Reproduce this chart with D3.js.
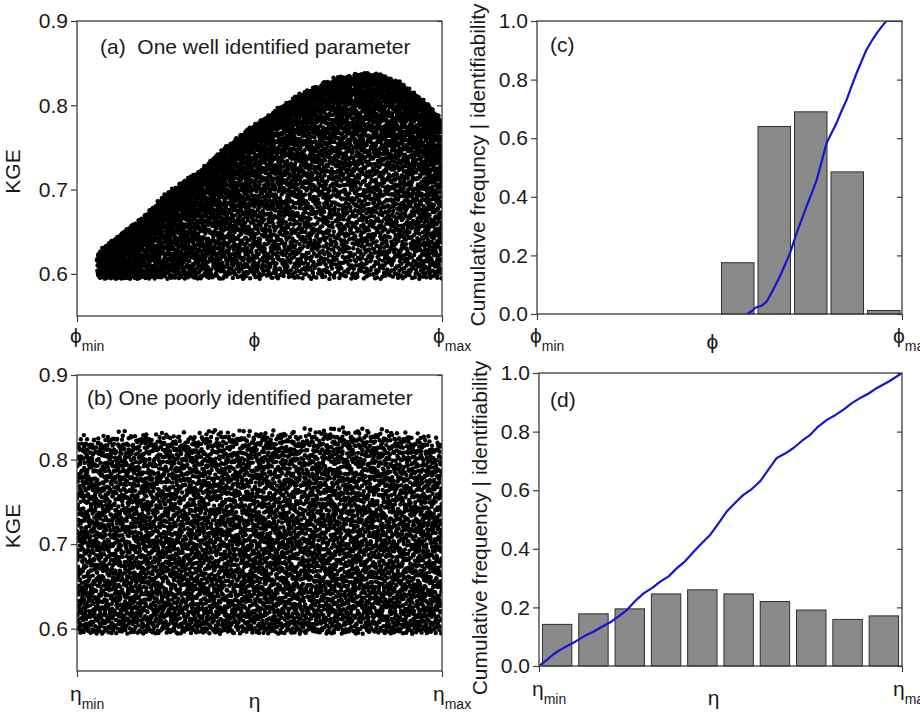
<!DOCTYPE html>
<html>
<head>
<meta charset="utf-8">
<script src="https://cdn.jsdelivr.net/npm/d3@7"></script>
<style>
  html, body { margin: 0; padding: 0; background: #fff; }
  svg { display: block; font-family: "Liberation Sans", Arial, sans-serif; }
</style>
</head>
<body>
<svg id="fig" width="920" height="714"></svg>
<script>
// ---- data -------------------------------------------------------------
// KGE cloud of panel (a): upper edge of the behavioural region vs. normalised phi
const phiEdgeX   = [0.054, 0.109, 0.182, 0.245, 0.337, 0.428, 0.519, 0.610, 0.702, 0.793, 0.838, 0.884, 0.939, 0.975, 1.0];
const phiEdgeKGE = [0.621, 0.640, 0.664, 0.692, 0.719, 0.755, 0.783, 0.810, 0.828, 0.835, 0.832, 0.824, 0.806, 0.791, 0.779];
// KGE cloud of panel (b): upper edge vs. normalised eta
const etaEdgeX   = [0, 0.1, 0.2, 0.3, 0.4, 0.5, 0.6, 0.7, 0.8, 0.9, 1.0];
const etaEdgeKGE = [0.822, 0.827, 0.828, 0.826, 0.830, 0.830, 0.829, 0.833, 0.832, 0.829, 0.820];
const kgeFloor = 0.594;          // behavioural threshold (lower edge of both clouds)

// identifiability per parameter bin (10 bins)
const phiIdent = [0, 0, 0, 0, 0, 0.175, 0.64, 0.69, 0.485, 0.012];
const etaIdent = [0.142, 0.178, 0.195, 0.246, 0.260, 0.246, 0.220, 0.191, 0.159, 0.171];

// cumulative frequency curves: [normalised parameter, cumulative frequency]
const phiCdf = [[0.576,0],[0.590,0.012],[0.601,0.023],[0.615,0.028],[0.629,0.042],[0.648,0.085],[0.665,0.127],
                [0.680,0.170],[0.693,0.207],[0.711,0.275],[0.725,0.322],[0.738,0.366],[0.752,0.410],
                [0.766,0.457],[0.780,0.520],[0.793,0.582],[0.806,0.615],[0.820,0.650],[0.834,0.692],
                [0.848,0.730],[0.862,0.778],[0.875,0.820],[0.889,0.862],[0.902,0.900],[0.916,0.930],
                [0.930,0.957],[0.944,0.980],[0.957,1.0],[1.0,1.0]];
const etaCdf = [[0,0],[0.021,0.020],[0.040,0.040],[0.058,0.055],[0.080,0.070],[0.100,0.083],[0.125,0.102],
                [0.150,0.117],[0.175,0.135],[0.200,0.152],[0.220,0.170],[0.242,0.191],[0.265,0.222],
                [0.288,0.248],[0.311,0.266],[0.334,0.288],[0.357,0.306],[0.380,0.334],[0.403,0.358],
                [0.426,0.390],[0.449,0.420],[0.472,0.448],[0.495,0.488],[0.517,0.527],[0.540,0.556],
                [0.563,0.584],[0.586,0.604],[0.609,0.630],[0.632,0.670],[0.655,0.710],[0.678,0.725],
                [0.701,0.744],[0.724,0.768],[0.747,0.789],[0.770,0.818],[0.793,0.840],[0.816,0.856],
                [0.839,0.875],[0.862,0.897],[0.885,0.915],[0.908,0.930],[0.931,0.949],[0.965,0.972],[1,1]];

const kgeTicks  = [0.6, 0.7, 0.8, 0.9];
const freqTicks = [0, 0.2, 0.4, 0.6, 0.8, 1.0];

// ---- helpers ----------------------------------------------------------
const svg = d3.select("#fig");
const frameColor = "#3c3c3c";
const textColor = "#1a1a1a";
const fs = 21;

// leaped Halton sequence: even coverage of the envelope without a visible lattice
function halton(i, b) {
  let f = 1, r = 0;
  while (i > 0) { f /= b; r += f * (i % b); i = Math.floor(i / b); }
  return r;
}
const LEAP = 409;

function panelFrame(g, w, h) {
  g.append("rect").attr("width", w).attr("height", h)
    .attr("fill", "none").attr("stroke", frameColor).attr("stroke-width", 1.3);
}

function yAxes(g, y, w, ticks, fmt) {
  const left = g.append("g").call(d3.axisLeft(y).tickValues(ticks).tickSize(6).tickPadding(3).tickFormat(fmt));
  left.select(".domain").remove();
  left.selectAll("line").attr("stroke", frameColor).attr("stroke-width", 1.2);
  left.selectAll("text").attr("font-size", fs).attr("fill", textColor)
    .attr("font-family", "Liberation Sans, Arial, sans-serif");
  const right = g.append("g").attr("transform", `translate(${w},0)`)
    .call(d3.axisLeft(y).tickValues(ticks).tickSize(5).tickFormat(""));
  right.select(".domain").remove();
  right.selectAll("line").attr("stroke", frameColor).attr("stroke-width", 1.2);
}

function xAxis(g, x, h, sym, labY, midY, midDx) {
  const ax = g.append("g").attr("transform", `translate(0,${h})`)
    .call(d3.axisBottom(x).tickValues([0, 1]).tickSize(6).tickFormat(""));
  ax.select(".domain").remove();
  ax.selectAll("line").attr("stroke", frameColor).attr("stroke-width", 1.2);
  [[0, "min", -7], [1, "max", -9]].forEach(([v, sub, dx]) => {
    const t = g.append("text").attr("x", x(v) + dx).attr("y", h + labY)
      .attr("fill", textColor).attr("font-size", fs);
    t.append("tspan").text(sym);
    t.append("tspan").attr("dy", 8).attr("font-size", 14).text(sub);
  });
  g.append("text").attr("x", x(0.5) + midDx).attr("y", h + midY)
    .attr("text-anchor", "middle").attr("fill", textColor).attr("font-size", fs).text(sym);
}

function yTitle(g, cx, cy, txt) {
  g.append("text").attr("transform", `translate(${cx},${cy}) rotate(-90)`)
    .attr("text-anchor", "middle").attr("fill", textColor).attr("font-size", fs).text(txt);
}

function scatterPanel(opt) {
  const { left, top, w, h, edgeX, edgeKGE, x0, n, skew, xPow, rough, title, sym, id, labY, midY } = opt;
  const g = svg.append("g").attr("transform", `translate(${left},${top})`);
  const x = d3.scaleLinear().domain([0, 1]).range([0, w]);
  const y = d3.scaleLinear().domain([0.55, 0.9]).range([h, 0]);
  const edge = d3.scaleLinear().domain(edgeX).range(edgeKGE).clamp(true);

  // parameter sets laid out inside the behavioural envelope
  const pts = d3.range(1, n + 1).map(k => {
    const i = k * LEAP;
    const u = halton(i, 2), v = halton(i, 3), r = halton(i, 5);
    const px = x0 + Math.pow(u, xPow) * (1 - x0);
    const up = edge(px) + (r - 0.5) * rough;
    const t = 1 - Math.pow(1 - v, skew);
    return [px, kgeFloor + (up - kgeFloor) * t];
  });

  g.append("clipPath").attr("id", id).append("rect").attr("width", w).attr("height", h);
  g.append("g").attr("clip-path", `url(#${id})`)
    .selectAll("circle").data(pts).join("circle")
    .attr("cx", d => x(d[0])).attr("cy", d => y(d[1])).attr("r", 2.2).attr("fill", "#000");

  panelFrame(g, w, h);
  yAxes(g, y, w, kgeTicks, d3.format(".1f"));
  xAxis(g, x, h, sym, labY, midY, -5);
  yTitle(g, -57, h / 2 + 3, "KGE");
  g.append("text").attr("x", title.x).attr("y", title.y).attr("fill", textColor)
    .attr("font-size", fs).style("white-space", "pre").text(title.text);
}

function histPanel(opt) {
  const { left, top, w, h, ident, cdf, pad, title, sym, ylab, labY, midY } = opt;
  const g = svg.append("g").attr("transform", `translate(${left},${top})`);
  const x = d3.scaleLinear().domain([0, 1]).range([0, w]);
  const y = d3.scaleLinear().domain([0, 1]).range([h, 0]);
  const band = d3.scaleBand().domain(d3.range(ident.length)).range([0, w])
    .paddingInner(pad).paddingOuter(pad / 2);

  g.append("clipPath").attr("id", "clip-" + title.text[1]).append("rect")
    .attr("x", -2).attr("width", w + 4).attr("height", h + 2);

  g.append("g").selectAll("rect").data(ident.map((v, i) => ({ v, i })).filter(d => d.v > 0))
    .join("rect")
    .attr("x", d => band(d.i)).attr("width", band.bandwidth())
    .attr("y", d => y(d.v)).attr("height", d => h - y(d.v))
    .attr("fill", "#8a8a8a").attr("stroke", "#2e2e2e").attr("stroke-width", 1);

  g.append("path").datum(cdf)
    .attr("clip-path", `url(#clip-${title.text[1]})`)
    .attr("d", d3.line().x(d => x(d[0])).y(d => y(d[1])))
    .attr("fill", "none").attr("stroke", "#1515d8").attr("stroke-width", 2.2)
    .attr("stroke-linejoin", "round");

  panelFrame(g, w, h);
  yAxes(g, y, w, freqTicks, d3.format(".1f"));
  xAxis(g, x, h, sym, labY, midY, -7);
  yTitle(g, -52, ylab.cy, ylab.text);
  g.append("text").attr("x", title.x).attr("y", title.y).attr("fill", textColor)
    .attr("font-size", fs).text(title.text);
}

// ---- panels -----------------------------------------------------------
scatterPanel({ left: 77, top: 21, w: 365, h: 295, edgeX: phiEdgeX, edgeKGE: phiEdgeKGE,
  x0: 0.054, n: 7800, skew: 1.7, xPow: 0.8, rough: 0.010, id: "clip-a", sym: "\u03D5", labY: 27, midY: 31,
  title: { x: 23, y: 33, text: "(a)  One well identified parameter" } });

scatterPanel({ left: 77, top: 375, w: 365, h: 296, edgeX: etaEdgeX, edgeKGE: etaEdgeKGE,
  x0: 0, n: 7200, skew: 1.0, xPow: 1.0, rough: 0.016, id: "clip-b", sym: "\u03B7", labY: 30, midY: 37,
  title: { x: 10, y: 30, text: "(b) One poorly identified parameter" } });

histPanel({ left: 537, top: 21, w: 365, h: 293, ident: phiIdent, cdf: phiCdf, pad: 0.11,
  sym: "\u03D5", labY: 29, midY: 35, ylab: { cy: 144, text: "Cumulative frequncy | identifiability" },
  title: { x: 13, y: 31, text: "(c)" } });

histPanel({ left: 539, top: 373, w: 363, h: 293, ident: etaIdent, cdf: etaCdf, pad: 0.19,
  sym: "\u03B7", labY: 30, midY: 39, ylab: { cy: 155, text: "Cumulative frequency | identifiability" },
  title: { x: 11, y: 34, text: "(d)" } });
</script>
</body>
</html>
